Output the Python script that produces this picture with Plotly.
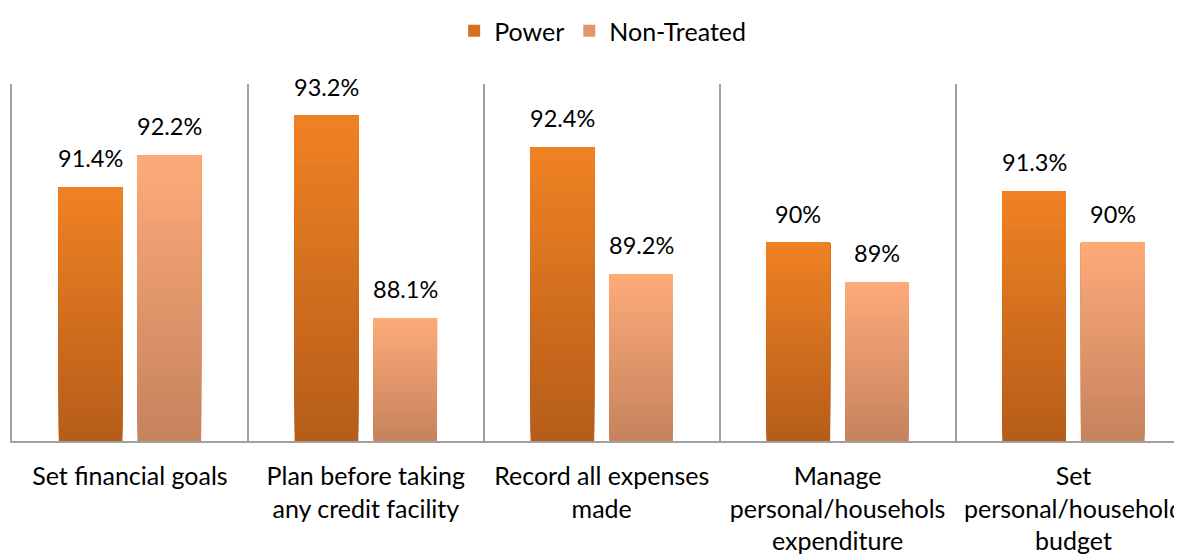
import plotly.graph_objects as go

categories = [
    "Set financial goals",
    "Plan before taking<br>any credit facility",
    "Record all expenses<br>made",
    "Manage<br>personal/househols<br>expenditure",
    "Set<br>personal/household<br>budget",
]
power = [91.4, 93.2, 92.4, 90.0, 91.3]
non_treated = [92.2, 88.1, 89.2, 89.0, 90.0]
power_labels = ["91.4%", "93.2%", "92.4%", "90%", "91.3%"]
non_treated_labels = ["92.2%", "88.1%", "89.2%", "89%", "90%"]

YMIN, YMAX = 85, 94
N = 40
FONT = "Lato, 'Open Sans', sans-serif"
GRID = "#A0A0A0"

def lerp(c1, c2, t):
    return "rgb(%d,%d,%d)" % tuple(round(a + (b - a) * t) for a, b in zip(c1, c2))

series = [
    ("Power", power, power_labels, (0xB6, 0x5D, 0x19), (0xEF, 0x82, 0x23)),
    ("Non-Treated", non_treated, non_treated_labels, (0xC6, 0x83, 0x5D), (0xFD, 0xAA, 0x79)),
]

fig = go.Figure()
for name, vals, labels, bottom, top in series:
    for k in range(N):
        t = k / (N - 1)
        bases = [YMIN + (v - YMIN) * k / N for v in vals]
        fig.add_trace(go.Bar(
            x=categories, y=[v - b for v, b in zip(vals, bases)], base=bases,
            offsetgroup=name, legendgroup=name, name=name,
            showlegend=(k == N // 2),
            marker=dict(color=lerp(bottom, top, t), line=dict(width=0)),
            hoverinfo="skip",
        ))

bargap = 0.333
slot = (1 - bargap) / 2
for si, (name, vals, labels, bottom, top) in enumerate(series):
    off = -slot / 2 if si == 0 else slot / 2
    for i, (v, lab) in enumerate(zip(vals, labels)):
        fig.add_annotation(x=i + off, y=v, xref="x", yref="y", text=lab,
                           showarrow=False, yanchor="bottom", yshift=13,
                           font=dict(family=FONT, size=23.5, color="#000000"))

fig.update_layout(
    width=1174, height=547,
    margin=dict(l=3.5, r=0, t=74, b=110),
    paper_bgcolor="white", plot_bgcolor="white",
    barmode="group", bargap=bargap, bargroupgap=0.19,
    font=dict(family=FONT, size=25, color="#000000"),
    showlegend=True,
    legend=dict(orientation="h", x=0.507, xanchor="center", y=1.1488, yanchor="middle",
                font=dict(family=FONT, size=25, color="#000000"),
                traceorder="normal", itemsizing="constant"),
    xaxis=dict(
        type="category",
        range=[-0.5, 4.439],
        tickson="boundaries", showgrid=True, gridcolor=GRID, gridwidth=2,
        showline=True, linecolor=GRID, linewidth=2, ticks="",
        tickfont=dict(family=FONT, size=25, color="#000000"), zeroline=False,
        ticklabelstandoff=12,
    ),
    yaxis=dict(range=[YMIN, YMAX], showticklabels=False, ticks="", showgrid=False,
               zeroline=False, showline=True, linecolor=GRID, linewidth=2),
)

fig.write_html("out.html")
